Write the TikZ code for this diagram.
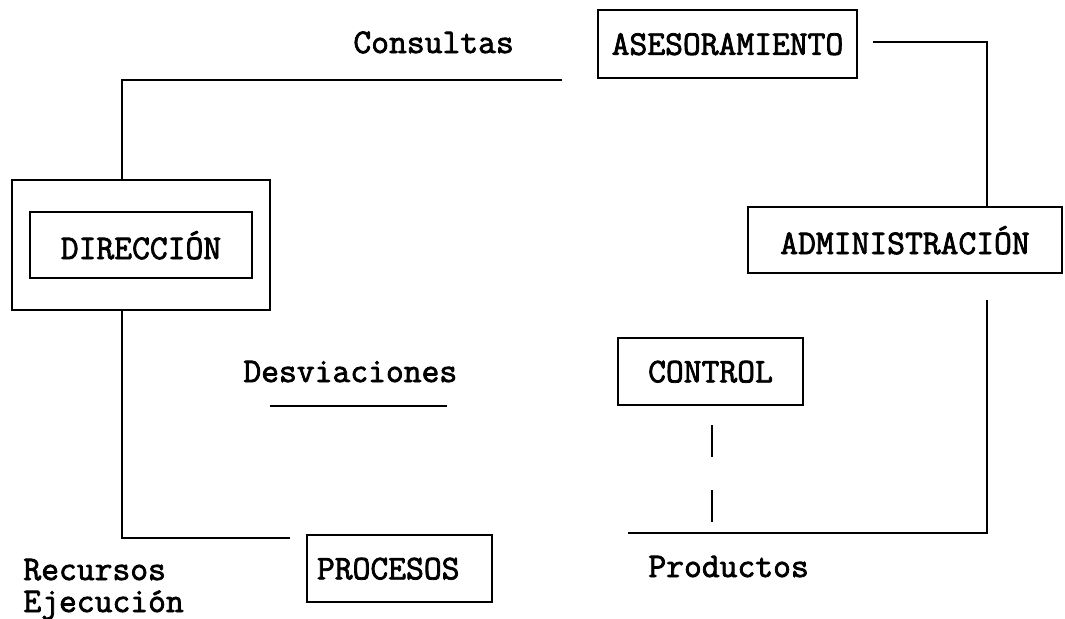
\documentclass[tikz,border=0pt]{standalone}
\usepackage{fontspec}
\newfontfamily\twfont{Latin Modern Mono}[FakeBold=2.2]
\begin{document}
\begin{tikzpicture}[x=0.5pt,y=-0.5pt,
  every node/.style={font=\twfont\fontsize{17.3}{20}\selectfont},
  box/.style={draw,line width=1.1pt,rectangle,inner sep=0pt,text depth=0pt},
  lbl/.style={inner sep=0pt,anchor=base west},
  conn/.style={line width=1.2pt}]
\useasboundingbox (0,0) rectangle (1065,618);
% boxes
\node[box,minimum width=129pt,minimum height=65pt] (dirout) at (141,245) {};
\node[box,minimum width=111pt,minimum height=33pt] (dir) at (141,245) {DIRECCIÓN};
\node[box,minimum width=129.5pt,minimum height=34pt] (ases) at (727.5,44) {ASESORAMIENTO};
\node[box,minimum width=157pt,minimum height=33pt] (admin) at (905,240) {ADMINISTRACIÓN};
\node[box,minimum width=92.5pt,minimum height=33.5pt] (control) at (710.5,371.5) {CONTROL};
\node[box,minimum height=33.5pt,text width=82.5pt,align=left,inner xsep=5pt] (proc) at (399.5,568.5) {PROCESOS};
% labels
\node[lbl] (consultas) at (353,53) {Consultas};
\node[lbl] (desv) at (243,382) {Desviaciones};
\node[lbl] (prod) at (648,577) {Productos};
\node[lbl] (recursos) at (23,580) {Recursos};
\node[lbl] (ejec) at (23,612) {Ejecución};
% helper coordinates
\coordinate (lx) at (122,0);
\coordinate (rx) at (987,0);
\coordinate (c1) at (562,80);
\coordinate (a1) at (873,42);
\coordinate (r1) at (987,300);
\coordinate (b1) at (628,533);
\coordinate (l1) at (290,538);
\coordinate (d1) at (270,406);
\coordinate (d2) at (447,406);
\coordinate (k1) at (712,425);
\coordinate (k2) at (712,522);
% connectors
\draw[conn] (c1) -| (dirout.north -| lx);
\draw[conn] (a1) -| (admin.north -| rx);
\draw[conn] (r1) |- (b1);
\draw[conn] (dirout.south -| lx) |- (l1);
\draw[conn] (d1) -- (d2);
\draw[conn,dash pattern=on 16pt off 16.5pt] (k1) -- (k2);
\end{tikzpicture}
\end{document}
